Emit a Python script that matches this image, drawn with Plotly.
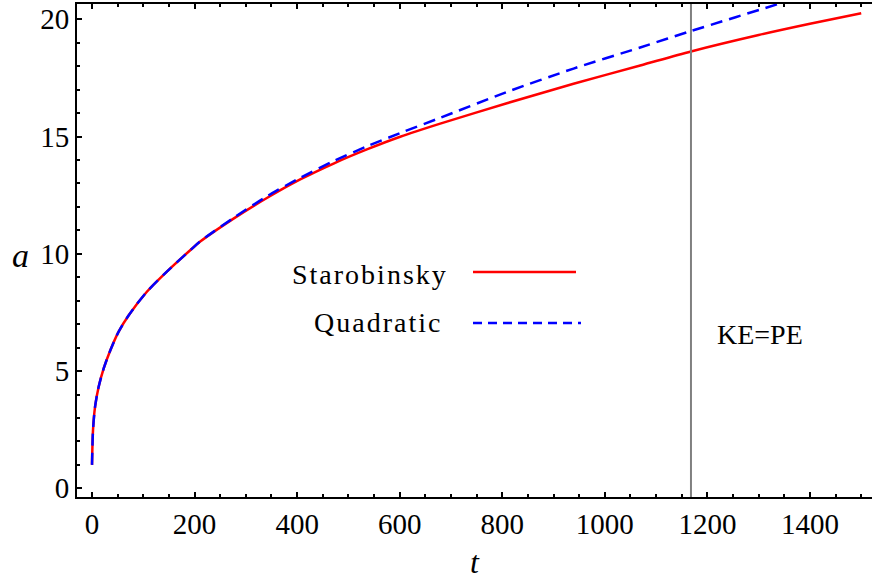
import plotly.graph_objects as go

# ---- data ----
t_star = [0, 2, 6, 13, 23, 36, 52, 72, 107, 146, 192, 211, 276, 341, 406, 471, 536, 601, 679, 809, 939, 1069, 1168, 1300, 1400, 1500]
a_star = [1.0, 2.49, 3.48, 4.33, 5.12, 5.9, 6.68, 7.39, 8.38, 9.24, 10.16, 10.52, 11.5, 12.38, 13.17, 13.85, 14.45, 14.99, 15.55, 16.42, 17.25, 18.03, 18.63, 19.33, 19.81, 20.26]

t_quad = [0, 2, 6, 13, 23, 36, 52, 72, 107, 146, 192, 211, 276, 341, 406, 471, 536, 601, 679, 809, 939, 1069, 1168, 1348, 1400, 1500]
a_quad = [1.0, 2.49, 3.48, 4.33, 5.12, 5.9, 6.68, 7.39, 8.38, 9.24, 10.16, 10.53, 11.53, 12.45, 13.24, 13.95, 14.58, 15.15, 15.8, 16.9, 17.9, 18.8, 19.5, 20.72, 21.08, 21.75]

t_equal = 1168          # KE = PE marker
x_ticks = [0, 200, 400, 600, 800, 1000, 1200, 1400]
y_ticks = [0, 5, 10, 15, 20]
x_range = [-29.25, 1521]
y_range = [-0.371, 20.653]

FONT = "Liberation Serif"
W, H = 872, 579
ML, MR, MT, MB = 77, 0, 4, 82
PW, PH = W - ML - MR, H - MT - MB


def px(x):
    return (x - ML) / PW


def py(y):
    return (H - MB - y) / PH


fig = go.Figure()
fig.add_trace(go.Scatter(x=t_star, y=a_star, mode="lines", name="Starobinsky",
                         line=dict(color="#ff0000", width=2.5, shape="spline", smoothing=0.8)))
fig.add_trace(go.Scatter(x=t_quad, y=a_quad, mode="lines", name="Quadratic",
                         line=dict(color="#0000ff", width=2.5, dash="12px,7px", shape="spline", smoothing=0.8)))

fig.add_shape(type="line", xref="x", yref="paper", x0=t_equal, x1=t_equal, y0=0, y1=1,
              line=dict(color="#808080", width=2))

fig.add_annotation(x=px(715), y=py(334), xref="paper", yref="paper", text="KE=PE", showarrow=False,
                   xanchor="left", yanchor="middle", font=dict(family=FONT, size=28, color="black"))

# legend (text on the left, sample on the right)
fig.add_annotation(x=px(450), y=py(275), xref="paper", yref="paper",
                   text='<span style="letter-spacing:2px">Starobinsky</span>', showarrow=False,
                   xanchor="right", yanchor="middle", font=dict(family=FONT, size=28, color="black"))
fig.add_annotation(x=px(444), y=py(323), xref="paper", yref="paper",
                   text='<span style="letter-spacing:2px">Quadratic</span>', showarrow=False,
                   xanchor="right", yanchor="middle", font=dict(family=FONT, size=28, color="black"))
fig.add_shape(type="line", xref="paper", yref="paper", x0=px(473), x1=px(576), y0=py(272), y1=py(272),
              line=dict(color="#ff0000", width=2.5))
fig.add_shape(type="line", xref="paper", yref="paper", x0=px(473), x1=px(581), y0=py(323), y1=py(323),
              line=dict(color="#0000ff", width=2.5, dash="9px,6px"))

fig.update_layout(
    width=W, height=H,
    margin=dict(l=ML, r=MR, t=MT, b=MB),
    paper_bgcolor="white", plot_bgcolor="white",
    showlegend=False,
    font=dict(family=FONT, size=28, color="black"),
)

fig.update_xaxes(range=x_range, tickvals=x_ticks, showgrid=False, zeroline=False,
                 showline=True, linecolor="black", linewidth=2, mirror="allticks",
                 ticks="inside", ticklen=5, tickwidth=2, tickcolor="black",
                 minor=dict(dtick=50, tick0=0, ticks="inside", ticklen=3, tickwidth=1.5, tickcolor="black"),
                 tickfont=dict(family=FONT, size=29))
fig.update_yaxes(range=y_range, tickvals=y_ticks, showgrid=False, zeroline=False,
                 showline=True, linecolor="black", linewidth=2, mirror=False,
                 ticks="inside", ticklen=5, tickwidth=2, tickcolor="black",
                 minor=dict(dtick=1, tick0=0, ticks="inside", ticklen=3, tickwidth=1.5, tickcolor="black"),
                 tickfont=dict(family=FONT, size=29))

# axis titles as annotations
fig.add_annotation(x=px(20), y=py(256), xref="paper", yref="paper", text="<i>a</i>", showarrow=False,
                   xanchor="center", yanchor="middle", font=dict(family=FONT, size=34, color="black"))
fig.add_annotation(x=px(475), y=0 - MB / PH, xref="paper", yref="paper", text="<i>t</i>", showarrow=False,
                   xanchor="center", yanchor="bottom", yshift=-3, font=dict(family=FONT, size=32, color="black"))

fig.write_html("out.html")
